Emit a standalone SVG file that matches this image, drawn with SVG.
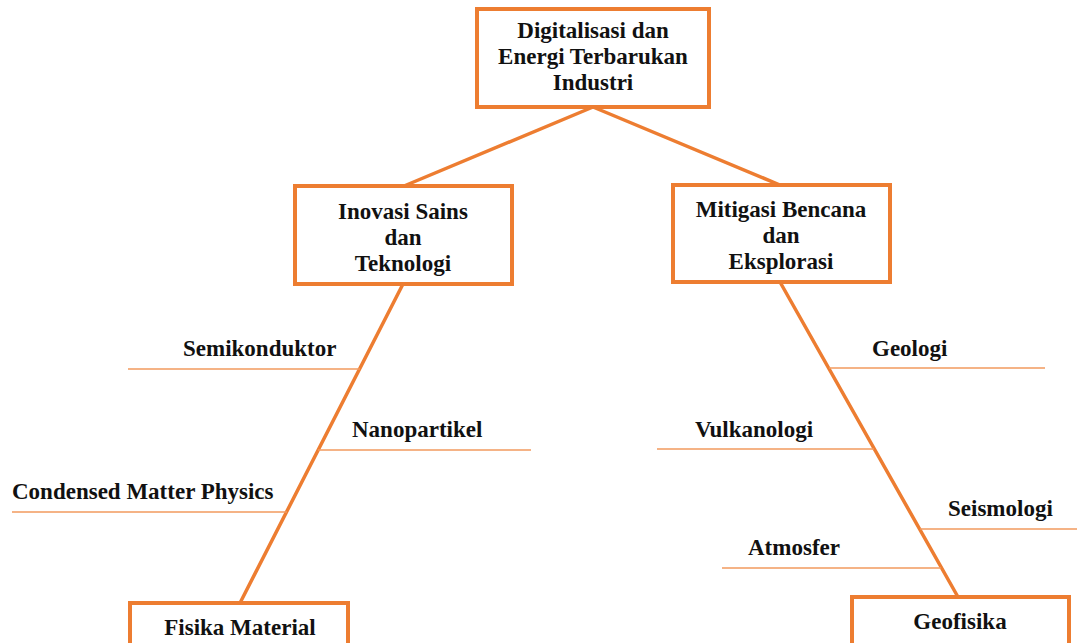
<svg xmlns="http://www.w3.org/2000/svg" width="1077" height="643" viewBox="0 0 1077 643">
  <style>
    .box { fill: #ffffff; stroke: #ED7D31; stroke-width: 4; }
    .trunk { stroke: #ED7D31; stroke-width: 3.5; fill: none; stroke-linecap: round; }
    .twig { stroke: #F29A5E; stroke-width: 1.6; fill: none; }
    text { font-family: "Liberation Serif", "Times New Roman", serif; font-weight: bold; font-size: 23px; fill: #111111; }
    .c { text-anchor: middle; }
  </style>
  <rect width="1077" height="643" fill="#ffffff"/>

  <g id="connectors">
    <line class="trunk" x1="593" y1="107" x2="404" y2="186"/>
    <line class="trunk" x1="593" y1="107" x2="780" y2="185"/>
    <line class="trunk" x1="403" y1="284" x2="240" y2="603"/>
    <line class="trunk" x1="780" y1="282" x2="958" y2="597"/>
    <!-- branch lines, left tree -->
    <line class="twig" x1="128" y1="369" x2="360" y2="369"/>
    <line class="twig" x1="318" y1="450" x2="531" y2="450"/>
    <line class="twig" x1="12" y1="512" x2="287" y2="512"/>
    <!-- branch lines, right tree -->
    <line class="twig" x1="829" y1="368" x2="1045" y2="368"/>
    <line class="twig" x1="657" y1="449" x2="874" y2="449"/>
    <line class="twig" x1="920" y1="529" x2="1077" y2="529"/>
    <line class="twig" x1="722" y1="568" x2="941" y2="568"/>
  </g>

  <g id="node-root">
    <rect class="box" x="477" y="9" width="232" height="98"/>
    <text class="c" x="593" y="38">Digitalisasi dan</text>
    <text class="c" x="593" y="64">Energi Terbarukan</text>
    <text class="c" x="593" y="90">Industri</text>
  </g>

  <g id="node-inovasi">
    <rect class="box" x="295" y="186" width="217" height="98"/>
    <text class="c" x="403" y="219">Inovasi Sains</text>
    <text class="c" x="403" y="245">dan</text>
    <text class="c" x="403" y="271">Teknologi</text>
  </g>

  <g id="node-mitigasi">
    <rect class="box" x="673" y="185" width="217" height="97"/>
    <text class="c" x="781" y="217">Mitigasi Bencana</text>
    <text class="c" x="781" y="243">dan</text>
    <text class="c" x="781" y="269">Eksplorasi</text>
  </g>

  <g id="node-fisika-material">
    <rect class="box" x="130" y="603" width="218" height="60"/>
    <text class="c" x="240" y="635">Fisika Material</text>
  </g>

  <g id="node-geofisika">
    <rect class="box" x="852" y="597" width="217" height="60"/>
    <text class="c" x="960" y="629">Geofisika</text>
  </g>

  <g id="labels-left">
    <text id="semikonduktor" x="183" y="356">Semikonduktor</text>
    <text id="nanopartikel" x="352" y="437">Nanopartikel</text>
    <text id="condensed" x="12" y="499">Condensed Matter Physics</text>
  </g>

  <g id="labels-right">
    <text id="geologi" x="872" y="356">Geologi</text>
    <text id="vulkanologi" x="695" y="437">Vulkanologi</text>
    <text id="seismologi" x="948" y="516">Seismologi</text>
    <text id="atmosfer" x="748" y="555">Atmosfer</text>
  </g>
</svg>
